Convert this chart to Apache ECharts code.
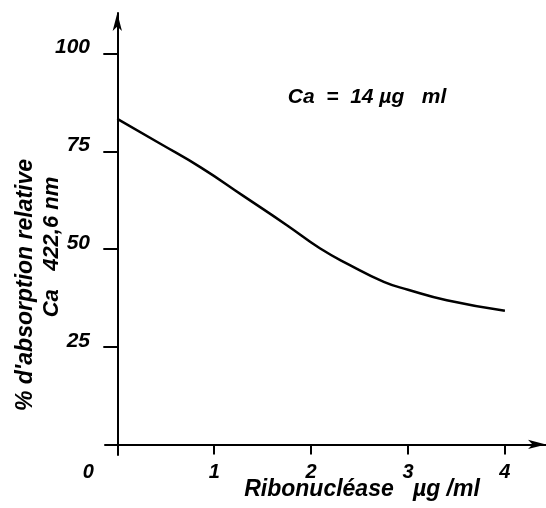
<!DOCTYPE html>
<html><head><meta charset="utf-8">
<script src="https://cdn.jsdelivr.net/npm/echarts@6/dist/echarts.min.js"></script>
<style>html,body{margin:0;padding:0;background:#fff}#c{width:546px;height:508px}</style>
</head><body><div id="c"></div>
<script>
var xValues = [0, 0.44, 0.86, 1.30, 1.75, 2.09, 2.40, 2.75, 3.0, 3.4, 4.0];
var yValues = [83.3, 77.0, 70.9, 63.6, 56.1, 50.2, 45.9, 41.6, 39.6, 36.9, 34.2];
var xTicks = [0, 1, 2, 3, 4];
var yTicks = [25, 50, 75, 100];
var xTitle = 'Ribonucléase   µg /ml';
var yTitle1 = "% d'absorption relative";
var yTitle2 = 'Ca   422,6 nm';
var note = 'Ca  =  14 µg   ml';

var FONT = '"Liberation Sans", Arial, sans-serif';
var chart = echarts.init(document.getElementById('c'));
var pts = xValues.map(function (x, i) { return [x, yValues[i]]; });
chart.setOption({
  animation: false,
  backgroundColor: '#fff',
  grid: { left: 105, right: 0, top: 13, bottom: 53 },
  xAxis: {
    type: 'value', min: -0.127, max: 4.424,
    splitLine: { show: false },
    axisLine: { onZero: true, lineStyle: { color: '#000', width: 2 }, symbol: ['none', 'arrow'], symbolSize: [7, 18] },
    axisTick: { customValues: xTicks, length: 10, lineStyle: { color: '#000', width: 2 } },
    axisLabel: {
      customValues: xTicks, margin: 7, color: '#000',
      fontFamily: FONT, fontSize: 20, fontWeight: 'bold', fontStyle: 'italic',
      formatter: function (v) { return v === 0 ? '{z|0}' : String(v); },
      rich: { z: { padding: [0, 58, 6, 0], color: '#000', fontFamily: FONT, fontSize: 20, fontWeight: 'bold', fontStyle: 'italic' } }
    }
  },
  yAxis: {
    type: 'value', min: -2.7, max: 110.4,
    splitLine: { show: false },
    axisLine: { onZero: true, lineStyle: { color: '#000', width: 2 }, symbol: ['none', 'arrow'], symbolSize: [7, 18] },
    axisTick: { customValues: yTicks, length: 14, lineStyle: { color: '#000', width: 2 } },
    axisLabel: {
      customValues: yTicks, margin: 15, color: '#000',
      verticalAlign: 'bottom', lineHeight: 12,
      fontFamily: FONT, fontSize: 21, fontWeight: 'bold', fontStyle: 'italic'
    }
  },
  series: [{
    type: 'line', data: pts, smooth: true, symbol: 'none',
    lineStyle: { color: '#000', width: 2.5 }
  }],
  graphic: [
    { type: 'text', x: 362, y: 490, style: { text: xTitle, fill: '#000', font: 'italic bold 23px ' + FONT, textAlign: 'center', textVerticalAlign: 'middle' } },
    { type: 'text', x: 26, y: 285, rotation: Math.PI / 2, style: { text: yTitle1, fill: '#000', font: 'italic bold 23px ' + FONT, textAlign: 'center', textVerticalAlign: 'middle' } },
    { type: 'text', x: 52, y: 247, rotation: Math.PI / 2, style: { text: yTitle2, fill: '#000', font: 'italic bold 22px ' + FONT, textAlign: 'center', textVerticalAlign: 'middle' } },
    { type: 'text', x: 367, y: 97, style: { text: note, fill: '#000', font: 'italic bold 21px ' + FONT, textAlign: 'center', textVerticalAlign: 'middle' } }
  ]
});
</script></body></html>
